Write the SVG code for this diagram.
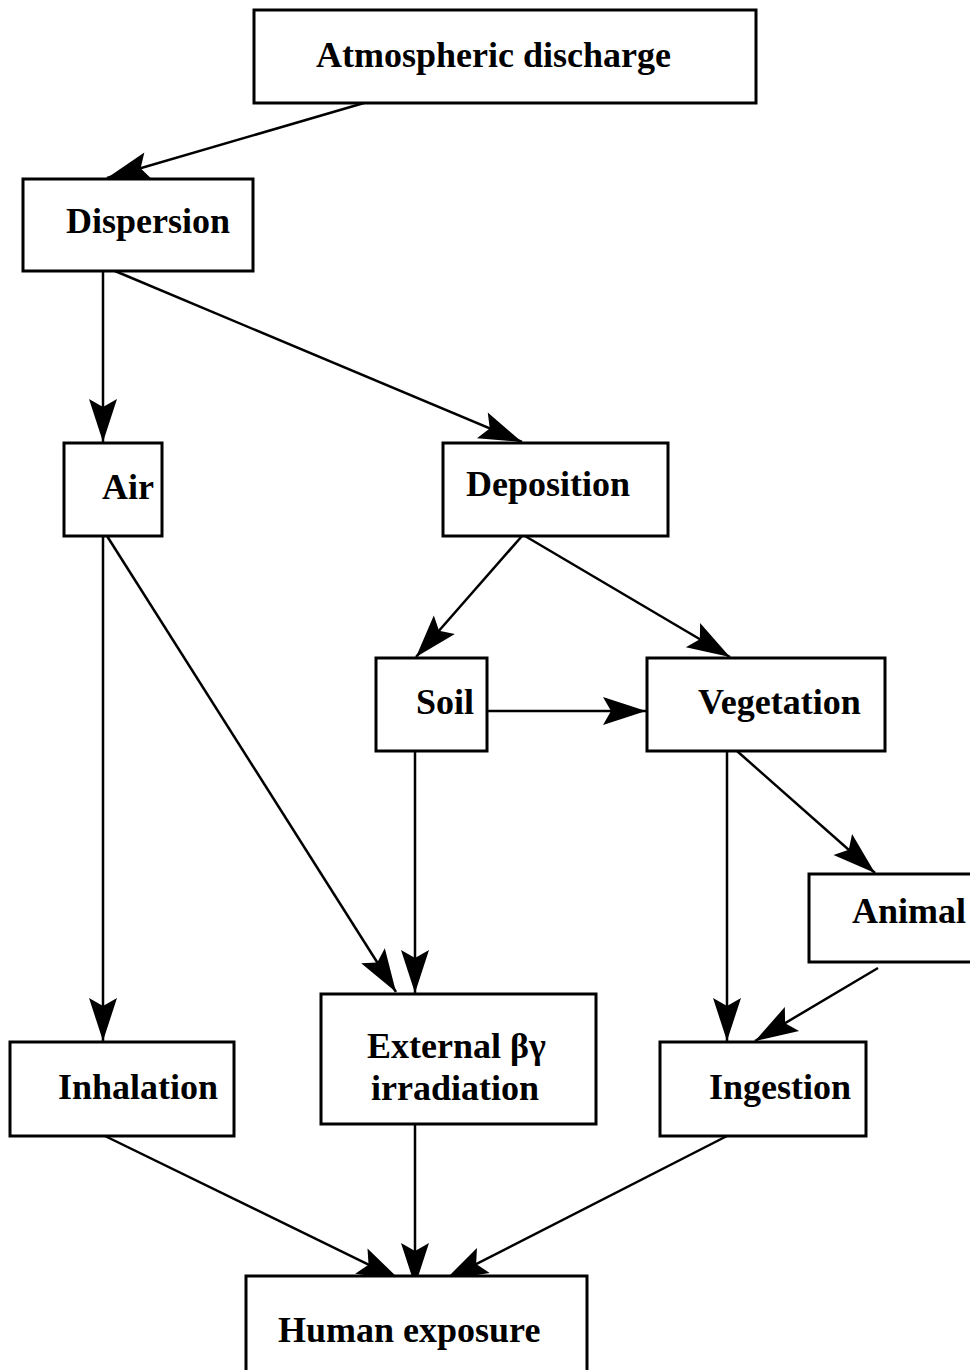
<svg xmlns="http://www.w3.org/2000/svg" width="970" height="1370" viewBox="0 0 970 1370">
<style>
.box{fill:#fff;stroke:#000;stroke-width:3}
.lbl{font-family:"Liberation Serif","Times New Roman",serif;font-weight:bold;font-size:36px;fill:#000}
.edge{stroke:#000;stroke-width:2.5;fill:none;marker-end:url(#ah)}
</style>
<defs>
<marker id="ah" markerUnits="userSpaceOnUse" viewBox="-44 -15 46 30" refX="0" refY="0" markerWidth="46" markerHeight="30" orient="auto">
<path d="M0,0 L-43,-14 L-35,0 L-43,14 Z" fill="#000"/>
</marker>
</defs>
<rect width="970" height="1370" fill="#fff"/>
<g id="connectors">
<line class="edge" x1="364" y1="103" x2="107" y2="178"/>
<line class="edge" x1="103" y1="271" x2="103" y2="442"/>
<line class="edge" x1="115" y1="271" x2="522" y2="442"/>
<line class="edge" x1="107" y1="536" x2="396" y2="992"/>
<line class="edge" x1="103" y1="536" x2="103" y2="1041"/>
<line class="edge" x1="522" y1="536" x2="416" y2="657"/>
<line class="edge" x1="525" y1="536" x2="730" y2="657"/>
<line class="edge" x1="487" y1="711" x2="646" y2="711"/>
<line class="edge" x1="415" y1="751" x2="415" y2="993"/>
<line class="edge" x1="727" y1="751" x2="727" y2="1041"/>
<line class="edge" x1="737" y1="751" x2="875" y2="873"/>
<line class="edge" x1="878" y1="968" x2="755" y2="1041"/>
<line class="edge" x1="105" y1="1136" x2="400" y2="1280"/>
<line class="edge" x1="415" y1="1124" x2="415" y2="1286"/>
<line class="edge" x1="727" y1="1136" x2="445" y2="1280"/>
</g>
<g id="atmospheric"><rect class="box" x="254" y="10" width="502" height="93"/><text class="lbl" x="316" y="67">Atmospheric discharge</text></g>
<g id="dispersion"><rect class="box" x="23" y="179" width="230" height="92"/><text class="lbl" x="66" y="233">Dispersion</text></g>
<g id="air"><rect class="box" x="64" y="443" width="98" height="93"/><text class="lbl" x="102" y="499">Air</text></g>
<g id="deposition"><rect class="box" x="443" y="443" width="225" height="93"/><text class="lbl" x="466" y="496">Deposition</text></g>
<g id="soil"><rect class="box" x="376" y="658" width="111" height="93"/><text class="lbl" x="416" y="714">Soil</text></g>
<g id="vegetation"><rect class="box" x="647" y="658" width="238" height="93"/><text class="lbl" x="698" y="714">Vegetation</text></g>
<g id="animal"><rect class="box" x="809" y="874" width="175" height="88"/><text class="lbl" x="852" y="923">Animal</text></g>
<g id="inhalation"><rect class="box" x="10" y="1042" width="224" height="94"/><text class="lbl" x="58" y="1099">Inhalation</text></g>
<g id="external"><rect class="box" x="321" y="994" width="275" height="130"/><text class="lbl" x="367" y="1058">External βγ</text><text class="lbl" x="371" y="1100">irradiation</text></g>
<g id="ingestion"><rect class="box" x="660" y="1042" width="206" height="94"/><text class="lbl" x="709" y="1099">Ingestion</text></g>
<g id="human"><rect class="box" x="246" y="1276" width="341" height="100"/><text class="lbl" x="278" y="1342">Human exposure</text></g>
</svg>
